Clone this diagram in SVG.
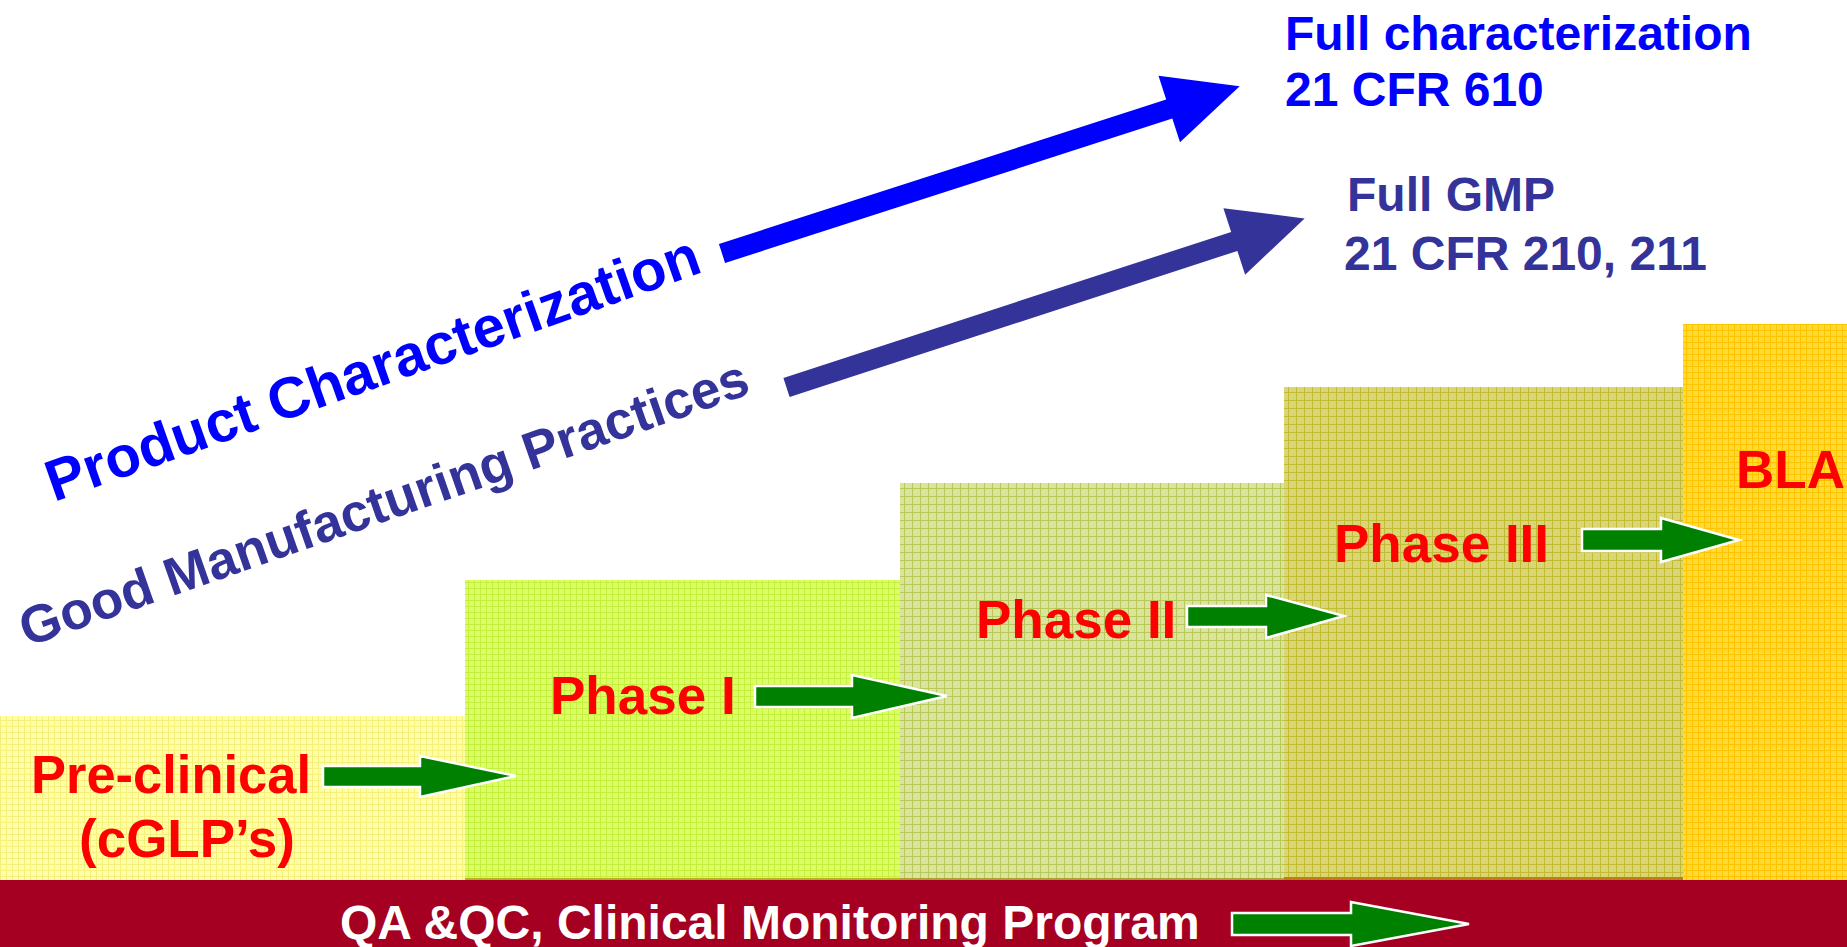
<svg xmlns="http://www.w3.org/2000/svg" width="1847" height="947" viewBox="0 0 1847 947">
<defs>
<style>
text{font-family:"Liberation Sans",Arial,sans-serif;font-weight:bold}
.lbl{fill:#FF0000;font-size:53px}
.ga{fill:#008000;stroke:#FFFFFF;stroke-width:2.5;stroke-linejoin:miter}
.blue{fill:#0000FF}
.navy{fill:#333399}
</style>
<pattern id="pPre" width="6" height="6" patternUnits="userSpaceOnUse">
<rect width="6" height="6" fill="#FFFFAA"/><path d="M0 0.5H6M0.5 0V6" stroke="#F6F07A" stroke-width="1"/>
</pattern>
<pattern id="pP1" width="6" height="6" patternUnits="userSpaceOnUse">
<rect width="6" height="6" fill="#DAFF66"/><path d="M0 0.5H6M0.5 0V6" stroke="#C6EE3C" stroke-width="1"/>
</pattern>
<pattern id="pP2" width="8" height="8" patternUnits="userSpaceOnUse">
<rect width="8" height="8" fill="#D9E49C"/><path d="M0 0.5H8M0.5 0V8" stroke="#B9C858" stroke-width="1"/>
</pattern>
<pattern id="pP3" width="8" height="8" patternUnits="userSpaceOnUse">
<rect width="8" height="8" fill="#DAD676"/><path d="M0 0.5H8M0.5 0V8" stroke="#C2BC34" stroke-width="1"/>
</pattern>
<pattern id="pBLA" width="6" height="6" patternUnits="userSpaceOnUse">
<rect width="6" height="6" fill="#FFD936"/><path d="M0 0.5H6M0.5 0V6" stroke="#FFC400" stroke-width="1"/>
</pattern>
</defs>

<rect width="1847" height="947" fill="#FFFFFF"/>

<g id="preclinical">
<rect x="0" y="716" width="465" height="164" fill="url(#pPre)"/>
<text class="lbl" x="31" y="793" textLength="280" lengthAdjust="spacingAndGlyphs">Pre-clinical</text>
<text class="lbl" x="79" y="857">(cGLP’s)</text>
</g>

<g id="phase1">
<rect x="465" y="580" width="435" height="300" fill="url(#pP1)"/>
<rect x="465" y="878" width="435" height="2" fill="#B8B020"/>
<text class="lbl" x="550" y="714">Phase I</text>
</g>

<g id="phase2">
<rect x="900" y="483" width="384" height="397" fill="url(#pP2)"/>
<rect x="900" y="878" width="384" height="2" fill="#B0A030"/>
<text class="lbl" x="976" y="638">Phase II</text>
</g>

<g id="phase3">
<rect x="1284" y="387" width="399" height="493" fill="url(#pP3)"/>
<rect x="1284" y="877" width="399" height="3" fill="#C08010"/>
<text class="lbl" x="1334" y="562">Phase III</text>
</g>

<g id="bla">
<rect x="1683" y="324" width="164" height="556" fill="url(#pBLA)"/>
<text class="lbl" x="1736" y="488">BLA</text>
</g>

<g id="qa-bar">
<rect x="0" y="880" width="1847" height="67" fill="#A50021"/>
<text x="340" y="939" fill="#FFFFFF" font-size="48">QA &amp;QC, Clinical Monitoring Program</text>
</g>

<g id="product-characterization">
<text class="blue" font-size="58" transform="translate(54 502) rotate(-19.5)">Product Characterization</text>
</g>

<g id="gmp">
<text class="navy" font-size="53" transform="translate(27 647) rotate(-19.3)">Good Manufacturing Practices</text>
</g>

<g id="full-characterization">
<text class="blue" font-size="48" x="1285" y="50">Full characterization</text>
<text class="blue" font-size="48" x="1285" y="106">21 CFR 610</text>
</g>

<g id="full-gmp">
<text class="navy" font-size="48" x="1347" y="211">Full GMP</text>
<text class="navy" font-size="48" x="1344" y="270">21 CFR 210, 211</text>
</g>

<g id="connectors">
<path class="blue" d="M0 -10H470V-35L544 0L470 35V10H0Z" transform="translate(722 253.5) rotate(-17.9)"/>
<path class="navy" d="M0 -10H471V-35L545 0L471 35V10H0Z" transform="translate(786.5 387.5) rotate(-18.07)"/>
<path class="ga" d="M323 766H420V756L516 776L420 797V787H323Z"/>
<path class="ga" d="M755 686H852V675L947 696L852 718V707H755Z"/>
<path class="ga" d="M1187 606H1266V595L1344 616L1266 638V627H1187Z"/>
<path class="ga" d="M1582 529H1661V518L1739 540L1661 562V551H1582Z"/>
<path class="ga" d="M1232 913H1351V902L1469 924L1351 946V935H1232Z"/>
</g>
</svg>
